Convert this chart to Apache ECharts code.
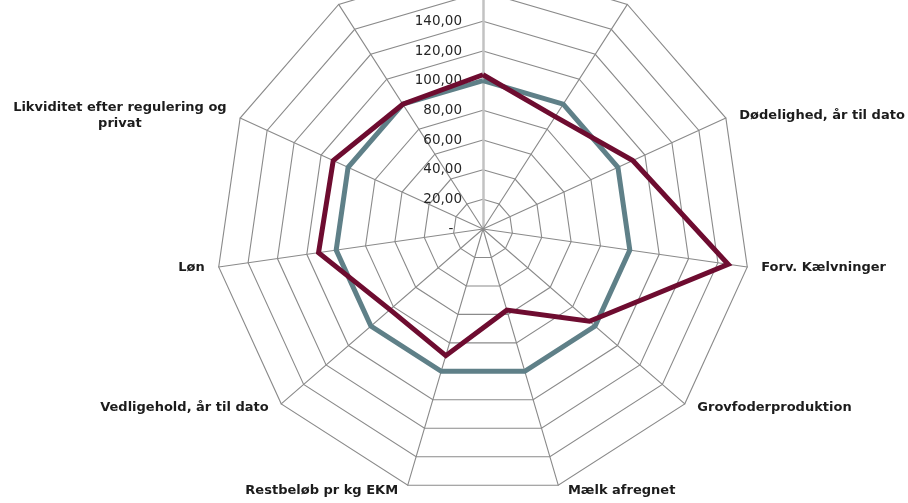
<!DOCTYPE html>
<html>
<head>
<meta charset="utf-8">
<script src="https://cdn.jsdelivr.net/npm/echarts@6/dist/echarts.min.js"></script>
<style>
html,body{margin:0;padding:0;background:#fff;}
#chart{width:908px;height:503px;}
</style>
</head>
<body>
<div id="chart"></div>
<script>
// Categories in counter-clockwise order starting at the top (ECharts radar order).
// The three top labels are cropped out of the reference picture.
const categories = [
  '',
  '',
  'Likviditet efter regulering og\nprivat',
  'Løn',
  'Vedligehold, år til dato',
  'Restbeløb pr kg EKM',
  'Mælk afregnet',
  'Grovfoderproduktion',
  'Forv. Kælvninger',
  'Dødelighed, år til dato',
  ''
];
const benchmarkValues = [100, 100, 100, 100, 100, 100, 100, 100, 100, 100, 100];
const farmValues      = [104, 100, 111, 112, 83, 89, 57, 95, 167, 111, 90];
const axisMax = 180;
const axisInterval = 20;

function fmt(v) {
  if (v === 0) return '-  ';
  return v.toFixed(2).replace('.', ',');
}

const indicator = categories.map((name, i) => {
  const ind = { name: name, min: 0, max: axisMax };
  if (i === 0) {
    ind.axisLabel = {
      show: true,
      formatter: fmt,
      color: '#262626',
      fontFamily: 'DejaVu Sans',
      fontSize: 13.5,
      margin: 21,
      showMinLabel: true,
      showMaxLabel: true
    };
    ind.axisLine = { lineStyle: { color: '#c2c2c2', width: 2.5 } };
  }
  return ind;
});

const chart = echarts.init(document.getElementById('chart'), null, { renderer: 'canvas' });
chart.setOption({
  animation: false,
  backgroundColor: '#ffffff',
  radar: {
    center: [483, 229],
    radius: 267,
    startAngle: 90,
    shape: 'polygon',
    splitNumber: axisMax / axisInterval,
    indicator: indicator,
    nameGap: 6,
    axisName: {
      color: '#1c1c1c',
      fontFamily: 'DejaVu Sans',
      fontWeight: 'bold',
      fontSize: 13,
      padding: [0, 8],
      formatter: function (name) {
        return name.split('\n').map(l => '{c|' + l + '}').join('\n');
      },
      rich: {
        c: {
          align: 'center',
          color: '#1c1c1c',
          fontFamily: 'DejaVu Sans',
          fontWeight: 'bold',
          fontSize: 13,
          lineHeight: 16
        }
      }
    },
    axisLine: { show: true, lineStyle: { color: '#8a8a8a', width: 1.1 } },
    splitLine: { show: true, lineStyle: { color: '#8a8a8a', width: 1.1 } },
    splitArea: { show: false },
    axisTick: { show: false },
    axisLabel: { show: false }
  },
  series: [
    {
      type: 'radar',
      symbol: 'none',
      silent: true,
      data: [
        {
          name: 'Benchmark',
          value: benchmarkValues,
          lineStyle: { color: '#5f8088', width: 5, join: 'miter' }
        },
        {
          name: 'Bedrift',
          value: farmValues,
          lineStyle: { color: '#6e0c30', width: 5, join: 'miter' }
        }
      ]
    }
  ]
});
</script>
</body>
</html>
